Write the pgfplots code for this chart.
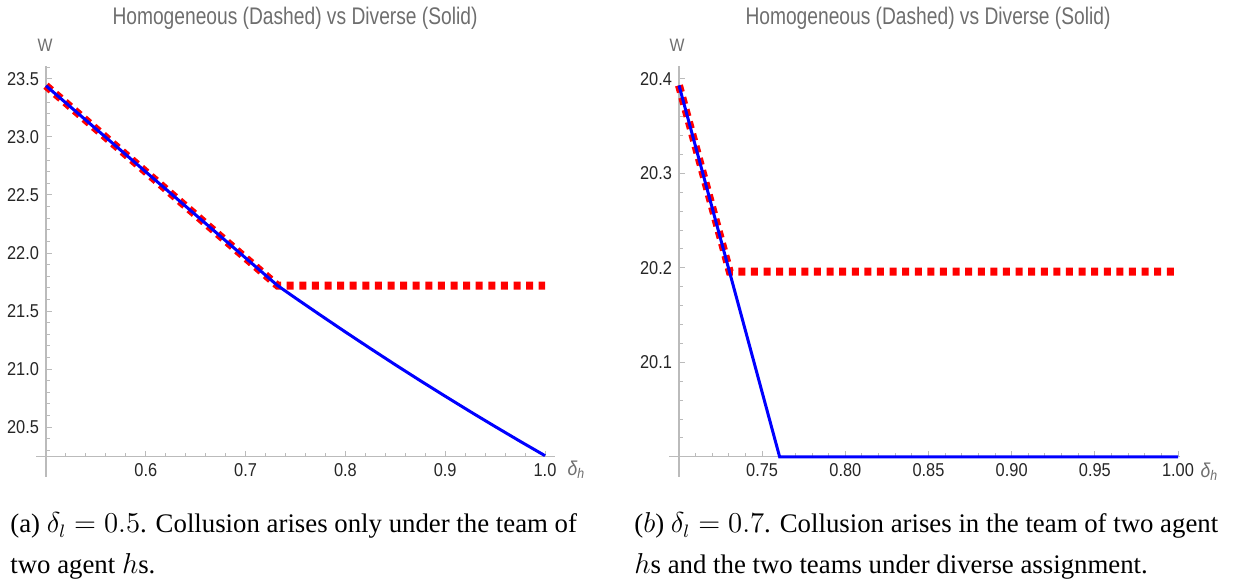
\documentclass[border=0pt]{standalone}
\usepackage{fontspec}
\setmainfont{Liberation Serif}
\newfontfamily\mma[FakeStretch=0.88]{Liberation Sans}
\newfontfamily\mmatitle[FakeStretch=0.8]{Liberation Sans}
\usepackage{pgfplots}
\pgfplotsset{compat=1.18}

\definecolor{axgray}{HTML}{BBBBBB}
\definecolor{labgray}{HTML}{6E6E6E}
\definecolor{ticklab}{HTML}{262626}

\pgfplotsset{
  mma/.style={
    scale only axis,
    anchor=south west,
    clip=false,
    axis x line=bottom,
    axis y line=left,
    axis line style={axgray, line width=0.6pt, -},
    tick align=inside,
    major tick length=3pt,
    minor tick length=1.8pt,
    tick style={axgray, line width=0.5pt},
    tick label style={font=\mma\fontsize{9.3}{10}\selectfont, text=ticklab},
  },
  homog/.style={red, line width=4pt, dash pattern=on 3.5pt off 2.8pt},
  divers/.style={blue, line width=1.5pt},
}

\begin{document}
\begin{tikzpicture}
% page frame: 1 px of the reference = 0.5pt, y measured from the bottom
\begin{scope}[x=0.5pt, y=0.5pt]
\path[use as bounding box] (0,0) rectangle (1233,581);
\end{scope}

% ---- left panel: delta_l = 0.5
\begin{axis}[mma,
  at={(23pt,64pt)},
  width=254.5pt, height=195.65pt,
  xmin=0.5, xmax=1.01, ymin=20.245, ymax=23.614,
  xtick={0.6,0.7,0.8,0.9,1.0},
  xticklabels={0.6,0.7,0.8,0.9,1.0},
  minor xtick={0.52,0.54,...,1.005},
  ytick={20.5,21,21.5,22,22.5,23,23.5},
  yticklabels={20.5,21.0,21.5,22.0,22.5,23.0,23.5},
  minor ytick={20.3,20.4,...,23.61},
]
\draw[axgray, line width=0.6pt] (axis cs:0.5,20.245) -- ++(-5pt,0pt);
\draw[axgray, line width=0.6pt] (axis cs:0.5,20.245) -- ++(0pt,-10pt);
\addplot[homog] coordinates {(0.5,23.44) (0.732,21.72) (1.0,21.72)};
\addplot[divers] coordinates {(0.5,23.44) (0.732,21.72) (0.75,21.612) (0.775,21.465)
  (0.8,21.320) (0.825,21.178) (0.85,21.038) (0.875,20.901) (0.9,20.767)
  (0.925,20.635) (0.95,20.506) (0.975,20.379) (1.0,20.255)};
\end{axis}

% ---- right panel: delta_l = 0.7
\begin{axis}[mma,
  at={(339.5pt,64pt)},
  width=250.5pt, height=195.65pt,
  xmin=0.70, xmax=1.0012, ymin=20.0, ymax=20.414,
  xtick={0.75,0.8,0.85,0.9,0.95,1.0},
  xticklabels={0.75,0.80,0.85,0.90,0.95,1.00},
  minor xtick={0.71,0.72,...,1.005},
  ytick={20.1,20.2,20.3,20.4},
  yticklabels={20.1,20.2,20.3,20.4},
  minor ytick={20.02,20.04,...,20.41},
]
\draw[axgray, line width=0.6pt] (axis cs:0.70,20.0) -- ++(-5pt,0pt);
\draw[axgray, line width=0.6pt] (axis cs:0.70,20.0) -- ++(0pt,-10pt);
\addplot[homog] coordinates {(0.70,20.393) (0.7305,20.196) (1.0,20.196)};
\addplot[divers] coordinates {(0.70,20.393) (0.7605,20.0) (1.0,20.0)};
\end{axis}

\begin{scope}[x=0.5pt, y=0.5pt]
% titles and axis labels
\node[font=\mmatitle\fontsize{12}{14}\selectfont, text=labgray] at (295,567) {Homogeneous (Dashed) vs Diverse (Solid)};
\node[font=\mmatitle\fontsize{12}{14}\selectfont, text=labgray] at (928,567) {Homogeneous (Dashed) vs Diverse (Solid)};
\node[font=\mma\fontsize{9}{10}\selectfont, text=labgray] at (45,540) {W};
\node[font=\mma\fontsize{9}{10}\selectfont, text=labgray] at (677,540) {W};
\node[font=\mma\fontsize{10}{11}\selectfont, text=labgray] at (576,115) {\itshape δ\raisebox{-0.35ex}{\fontsize{7}{8}\selectfont h}};
\node[font=\mma\fontsize{10}{11}\selectfont, text=labgray] at (1209,113) {\itshape δ\raisebox{-0.35ex}{\fontsize{7}{8}\selectfont h}};

% captions
\node[anchor=base west, inner sep=0pt, font=\fontsize{13.4}{16}\selectfont] at (10,52)
  {(a) $\delta_l = 0.5$. Collusion arises only under the team of};
\node[anchor=base west, inner sep=0pt, font=\fontsize{13.4}{16}\selectfont] at (10,11)
  {two agent $h$s.};
\node[anchor=base west, inner sep=0pt, font=\fontsize{13.4}{16}\selectfont] at (634,52)
  {($b$) $\delta_l = 0.7$. Collusion arises in the team of two agent};
\node[anchor=base west, inner sep=0pt, font=\fontsize{13.4}{16}\selectfont] at (634,11)
  {$h$s and the two teams under diverse assignment.};
\end{scope}
\end{tikzpicture}
\end{document}
